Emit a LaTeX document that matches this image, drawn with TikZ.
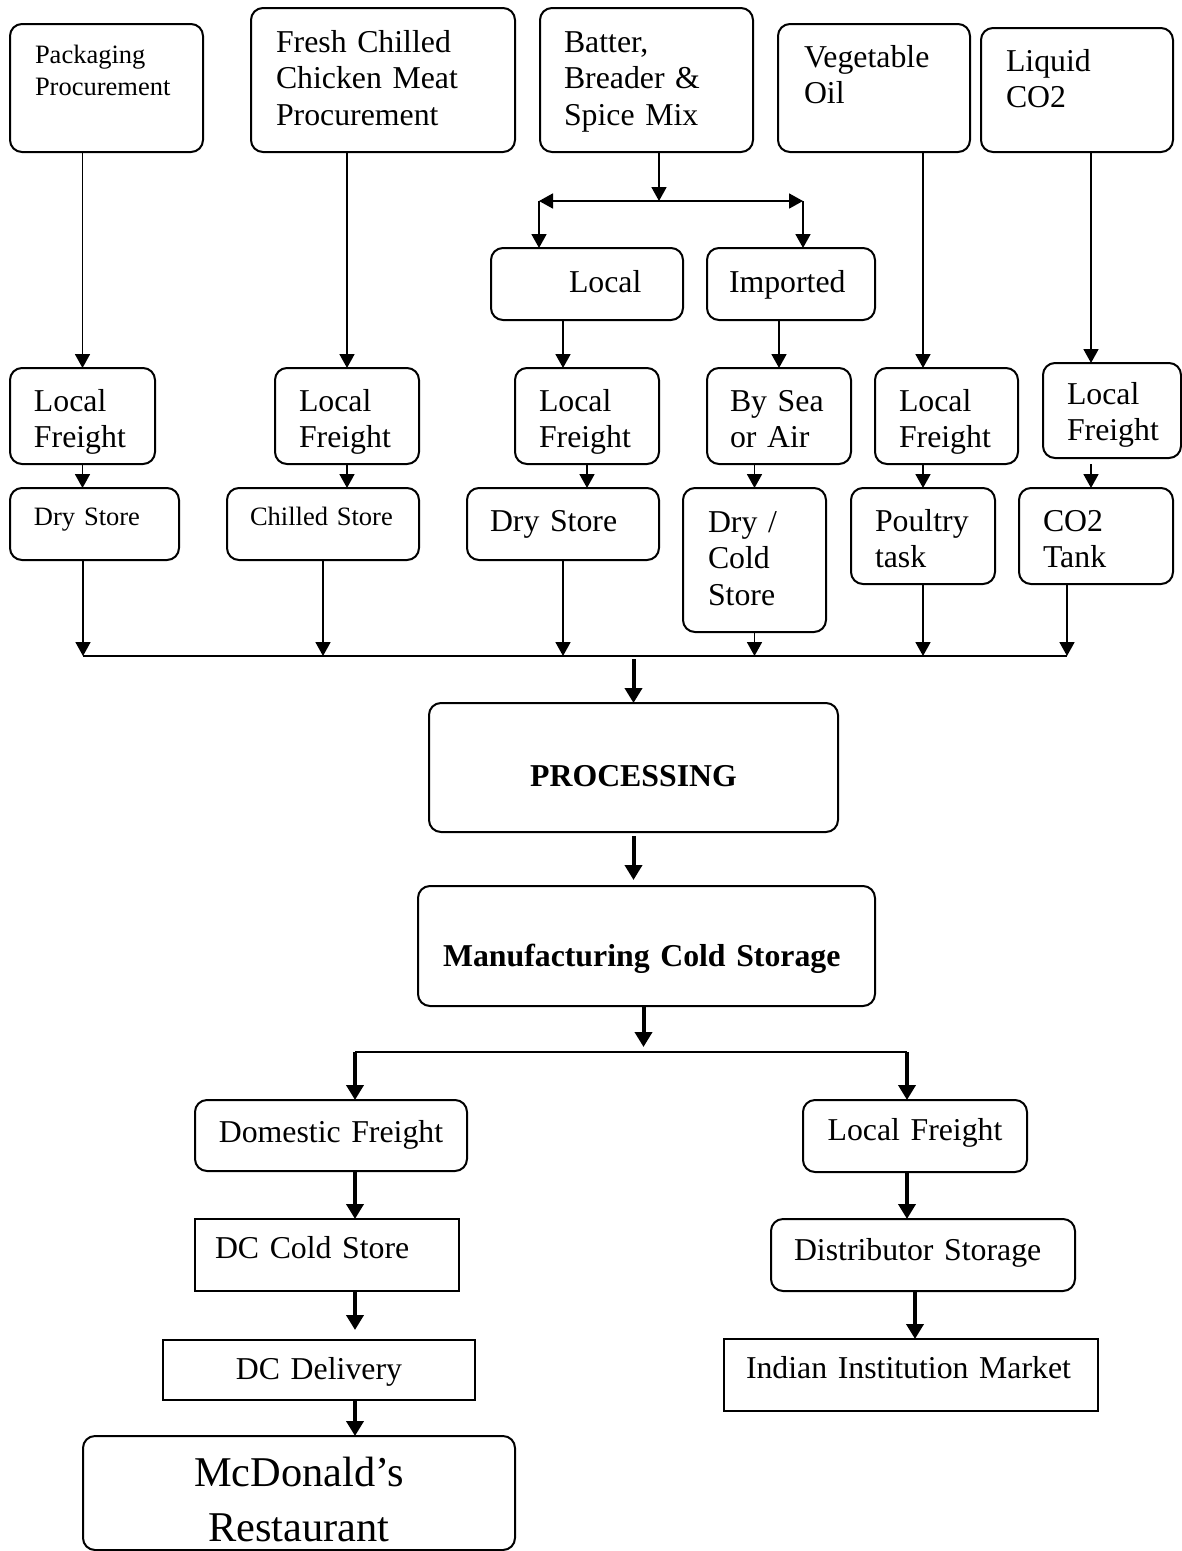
\documentclass[tikz,border=0pt]{standalone}
\usepackage{fontspec}
\setmainfont{Liberation Serif}
\usetikzlibrary{arrows.meta}

\begin{document}
\begin{tikzpicture}[
  x=1pt, y=-1pt,
  box/.style={
    rectangle,
    rounded corners=12pt,
    draw=black,
    line width=2pt,
    fill=white,
    text=black,
    anchor=north west,
    inner ysep=0pt,
    outer sep=0pt,
    align=left,
    font=\fontsize{31.8}{36.8}\selectfont
  },
  sbox/.style={box, sharp corners},
  smalltext/.style={font=\fontsize{26.5}{32}\selectfont},
  bigtext/.style={font=\fontsize{42.4}{55}\selectfont},
  heavy/.style={font=\fontsize{31.8}{36.8}\selectfont\bfseries},
  arrow/.style={
    -{Triangle[length=14pt,width=15pt]},
    line width=1.8pt,
    draw=black
  },
  twoway/.style={
    {Triangle[length=14pt,width=15pt]}-{Triangle[length=14pt,width=15pt]},
    line width=1.8pt,
    draw=black
  },
  fat/.style={
    -{Triangle[length=15pt,width=17pt]},
    line width=4pt,
    draw=black
  }
]
\useasboundingbox (0,0) rectangle (1182,1551);

% sources
\node[box, smalltext, inner xsep=25pt, text width=143pt, text height=39pt, text depth=89pt] (pack) at (10,24) {Packaging\\Procurement};
\node[box, inner xsep=25pt, text width=214pt, text height=44pt, text depth=100pt] (fresh) at (251,8) {Fresh Chilled\\Chicken Meat\\Procurement};
\node[box, inner xsep=24pt, text width=165pt, text height=44pt, text depth=100pt] (batter) at (540,8) {Batter,\\Breader \&\\Spice Mix};
\node[box, inner xsep=26pt, text width=140pt, text height=43pt, text depth=85pt] (oil) at (778,24) {Vegetable\\Oil};
\node[box, inner xsep=25pt, text width=142pt, text height=43pt, text depth=81pt] (co2) at (981,28) {Liquid\\CO2};

\node[box, inner xsep=78pt, text width=36pt, text height=44pt, text depth=28pt] (local) at (491,248) {Local};
\node[box, inner xsep=22pt, text width=124pt, text height=44pt, text depth=28pt] (imported) at (707,248) {Imported};

% freight
\node[box, inner xsep=24pt, text width=97pt, text height=43pt, text depth=53pt] (lf1) at (10,368) {Local\\Freight};
\node[box, inner xsep=24pt, text width=96pt, text height=43pt, text depth=53pt] (lf2) at (275,368) {Local\\Freight};
\node[box, inner xsep=24pt, text width=96pt, text height=43pt, text depth=53pt] (lf3) at (515,368) {Local\\Freight};
\node[box, inner xsep=23pt, text width=98pt, text height=43pt, text depth=53pt] (bysea) at (707,368) {By Sea\\or Air};
\node[box, inner xsep=24pt, text width=95pt, text height=43pt, text depth=53pt] (lf5) at (875,368) {Local\\Freight};
\node[box, inner xsep=24pt, text width=90pt, text height=41pt, text depth=54pt] (lf6) at (1043,363) {Local\\Freight};

% stores
\node[box, smalltext, inner xsep=24pt, text width=121pt, text height=37pt, text depth=35pt] (ds1) at (10,488) {Dry Store};
\node[box, smalltext, inner xsep=23pt, text width=146pt, text height=37pt, text depth=35pt] (chilled) at (227,488) {Chilled Store};
\node[box, inner xsep=23pt, text width=146pt, text height=43pt, text depth=29pt] (ds3) at (467,488) {Dry Store};
\node[box, inner xsep=25pt, text width=93pt, text height=44pt, text depth=100pt] (drycold) at (683,488) {Dry /\\Cold\\Store};
\node[box, inner xsep=24pt, text width=96pt, text height=43pt, text depth=53pt] (poultry) at (851,488) {Poultry\\task};
\node[box, inner xsep=24pt, text width=106pt, text height=43pt, text depth=53pt] (tank) at (1019,488) {CO2\\Tank};

% plant
\node[box, heavy, align=center, inner xsep=20pt, text width=369pt, text height=83pt, text depth=46pt] (processing) at (429,703) {PROCESSING};
\node[box, heavy, inner xsep=25pt, text width=407pt, text height=80pt, text depth=40pt] (manuf) at (418,886) {Manufacturing Cold Storage};

% outbound
\node[box, align=center, inner xsep=20pt, text width=232pt, text height=42pt, text depth=29pt] (domestic) at (195,1100) {Domestic Freight};
\node[sbox, inner xsep=20pt, text width=224pt, text height=39pt, text depth=33pt] (dccold) at (195,1219) {DC Cold Store};
\node[sbox, align=center, inner xsep=20pt, text width=272pt, text height=39pt, text depth=21pt] (dcdel) at (163,1340) {DC Delivery};
\node[box, bigtext, align=center, inner xsep=20pt, text width=392pt, text height=50pt, text depth=64pt] (mcd) at (83,1436) {McDonald's\\Restaurant};
\node[box, align=center, inner xsep=20pt, text width=184pt, text height=40pt, text depth=32pt] (lfr) at (803,1100) {Local Freight};
\node[box, inner xsep=23pt, text width=258pt, text height=41pt, text depth=31pt] (dist) at (771,1219) {Distributor Storage};
\node[sbox, inner xsep=22pt, text width=330pt, text height=39pt, text depth=33pt] (indian) at (724,1339) {Indian Institution Market};

% sources to freight
\coordinate (mix) at (659,201);
\coordinate (mixl) at (539,201);
\coordinate (mixr) at (803,201);
\coordinate (liq) at ([xshift=14pt]co2.south);
\draw[arrow] (pack.south -| lf1.north) -- (lf1.north);
\draw[arrow] (fresh.south -| lf2.north) -- (lf2.north);
\draw[arrow] (batter.south -| mix) -- (mix);
\draw[twoway] (mixl) -- (mixr);
\draw[arrow] (mixl) -- (mixl |- local.north);
\draw[arrow] (mixr) -- (mixr |- imported.north);
\draw[arrow] ([xshift=-24pt]local.south) -- ([xshift=-24pt]local.south |- lf3.north);
\draw[arrow] (imported.south -| bysea.north) -- (bysea.north);
\draw[arrow] (oil.south -| poultry.north) -- (poultry.north |- lf5.north);
\draw[arrow] (liq) -- (liq |- lf6.north);

% freight to stores
\draw[arrow] (lf1.south) -- (lf1.south |- ds1.north);
\draw[arrow] (lf2.south) -- (lf2.south |- chilled.north);
\draw[arrow] (lf3.south) -- (lf3.south |- ds3.north);
\draw[arrow] (bysea.south -| drycold.north) -- (drycold.north);
\draw[arrow] (lf5.south -| poultry.north) -- (poultry.north);
\draw[arrow, shorten <=6pt] (liq |- lf6.south) -- (liq |- tank.north);

% stores to processing
\coordinate (busl) at (83,656);
\coordinate (busr) at (1067,656);
\draw[line width=1.8pt] (busl) -- (busr);
\draw[arrow] (ds1.south -| busl) -- (busl);
\draw[arrow] (chilled.south) -- (chilled.south |- busl);
\draw[arrow] (ds3.south) -- (ds3.south |- busl);
\draw[arrow] (drycold.south) -- (drycold.south |- busl);
\draw[arrow] (poultry.south) -- (poultry.south |- busl);
\draw[arrow] (tank.south -| busr) -- (busr);
\draw[fat, shorten <=3pt] (processing.north |- busl) -- (processing.north);
\draw[fat, shorten <=4pt, shorten >=6pt] (processing.south) -- (processing.south |- manuf.north);

% distribution
\coordinate (outl) at (355,1052);
\coordinate (outr) at (907,1052);
\draw[fat, shorten >=5pt] ([xshift=-3pt]manuf.south) -- ([xshift=-3pt]manuf.south |- outl);
\draw[line width=2pt] (outl) -- (outr);
\draw[fat] (outl) -- (outl |- domestic.north);
\draw[fat] (outr) -- (outr |- lfr.north);
\draw[fat] (outl |- domestic.south) -- (outl |- dccold.north);
\draw[fat, shorten >=10pt] (outl |- dccold.south) -- (outl |- dcdel.north);
\draw[fat] (outl |- dcdel.south) -- (outl |- mcd.north);
\draw[fat] (outr |- lfr.south) -- (outr |- dist.north);
\draw[fat] ([xshift=-8pt]dist.south) -- ([xshift=-8pt]dist.south |- indian.north);

\end{tikzpicture}
\end{document}
